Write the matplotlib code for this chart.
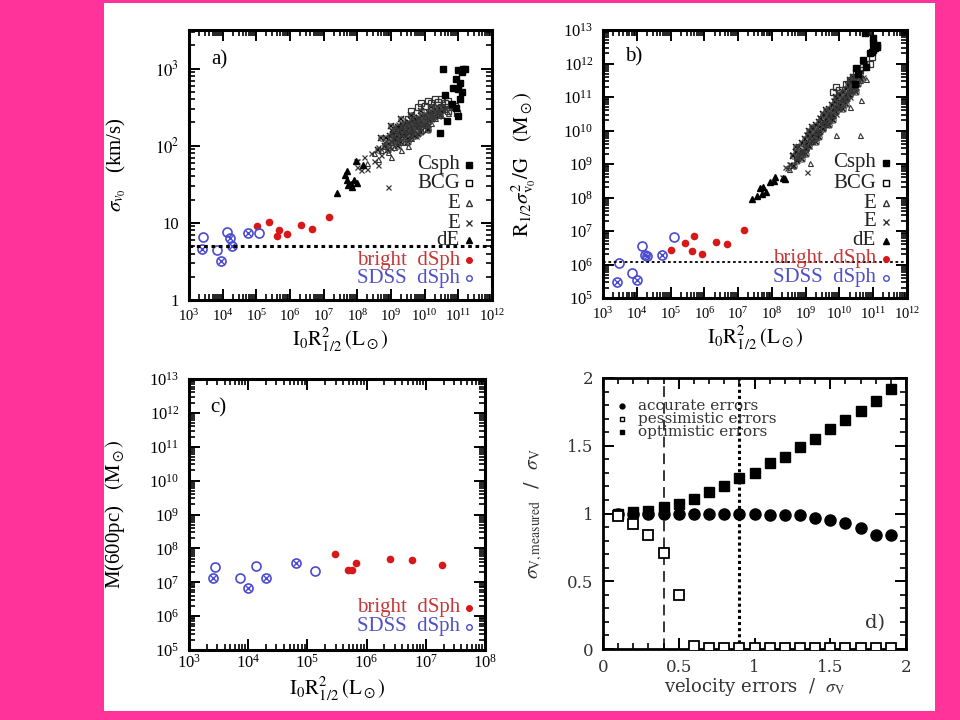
import numpy as np
import matplotlib
matplotlib.use('Agg')
import matplotlib.pyplot as plt
from matplotlib.ticker import LogLocator, NullFormatter, FixedLocator, MultipleLocator

plt.rcParams['font.family'] = ['Liberation Serif', 'DejaVu Serif']
plt.rcParams['mathtext.fontset'] = 'stix'

# ---------------- data (log10 values) ----------------
# panel a : log10(I0 R^2) , log10(sigma)
a_csph_x = [10.55, 11.14, 11.0, 11.1, 10.92, 11.04, 10.85, 11.0, 11.1, 10.6, 10.94, 11.0, 10.67, 10.45, 10.82, 11.2, 11.05]
a_csph_y = [3.0, 3.0, 2.98, 2.95, 2.86, 2.81, 2.75, 2.73, 2.7, 2.66, 2.49, 2.39, 2.32, 2.16, 2.54, 3.0, 2.6]
a_bcg_x = [9.6, 9.8, 9.9, 10.0, 10.1, 10.2, 10.3, 10.4, 10.5, 10.6, 10.7, 10.8, 10.9, 10.95, 10.7, 9.5, 10.2, 10.5]
a_bcg_y = [2.45, 2.5, 2.55, 2.52, 2.58, 2.55, 2.6, 2.57, 2.6, 2.55, 2.58, 2.5, 2.52, 2.42, 2.45, 2.35, 2.47, 2.5]
a_etri_x = [8.3, 8.5, 8.6, 8.7, 8.8, 8.9, 9.0, 9.0, 9.1, 9.1, 9.2, 9.2, 9.3, 9.3, 9.4, 9.4, 9.5, 9.5, 9.6, 9.6,
            9.7, 9.7, 9.8, 9.8, 9.9, 9.9, 10.0, 10.0, 10.1, 10.2, 10.2, 10.3, 10.4, 10.5, 10.6, 9.5, 9.3, 9.0, 10.8, 10.7]
a_etri_y = [1.78, 1.9, 1.83, 1.95, 2.0, 1.92, 2.05, 2.15, 2.1, 1.98, 2.2, 2.05, 2.12, 2.25, 2.18, 2.05, 2.28, 2.15, 2.22, 2.1,
            2.3, 2.18, 2.25, 2.35, 2.3, 2.2, 2.38, 2.27, 2.32, 2.4, 2.3, 2.36, 2.45, 2.4, 2.48, 2.0, 1.95, 1.85, 2.5, 2.42]
a_ex_x = [8.0, 8.0, 8.1, 8.2, 8.3, 8.4, 8.5, 8.6, 8.7, 8.8, 8.9, 9.0, 9.0, 9.1, 9.2, 9.2, 9.3, 9.3, 9.4, 9.4, 9.5, 9.5,
          9.6, 9.6, 9.7, 9.7, 9.8, 9.8, 9.9, 9.9, 10.0, 10.1, 10.1, 10.2, 10.3, 10.4, 10.5, 8.92, 7.95, 8.6, 9.1, 9.45,
          9.55, 9.65, 9.75, 9.35, 9.25, 9.85, 10.05, 9.15]
a_ex_y = [1.72, 1.8, 1.68, 1.85, 1.7, 1.9, 1.8, 1.98, 1.88, 2.05, 2.1, 1.97, 2.2, 2.15, 2.28, 2.1, 2.18, 2.3, 2.22, 2.12, 2.32, 2.2,
          2.28, 2.15, 2.25, 2.35, 2.3, 2.2, 2.4, 2.28, 2.33, 2.4, 2.28, 2.35, 2.42, 2.38, 2.46, 1.47, 1.8, 1.75, 2.25, 2.26,
          2.1, 2.38, 2.12, 2.2, 2.16, 2.27, 2.3, 2.02]
a_core_x = [8.82, 8.85, 8.93, 8.97, 9.02, 9.05, 9.08, 9.12, 9.15, 9.18, 9.22, 9.25, 9.28, 9.32, 9.35, 9.38, 9.42, 9.45,
            9.48, 9.52, 9.55, 9.58, 9.62, 9.65, 9.68, 9.72, 9.75, 9.78, 9.82, 9.85, 9.88, 9.92, 9.95, 9.98, 10.02, 10.05,
            10.08, 10.12, 10.15, 10.18, 10.22, 10.25, 10.28, 10.32, 10.35, 10.38, 10.42, 10.45, 10.48, 10.55, 10.62,
            9.4, 9.6, 9.8, 10.0, 9.3, 9.5, 9.7, 9.9, 10.1,
            8.6, 8.7, 8.9, 9.0, 9.2, 9.3, 9.5, 9.6, 9.8, 9.9, 10.1, 10.2]
a_core_y = [2.0, 2.1, 2.02, 2.12, 2.05, 2.15, 2.18, 2.08, 2.2, 2.12, 2.24, 2.16, 2.1, 2.22, 2.26, 2.14, 2.28, 2.19,
            2.24, 2.3, 2.17, 2.26, 2.32, 2.21, 2.28, 2.34, 2.25, 2.3, 2.36, 2.27, 2.32, 2.38, 2.29, 2.35, 2.4, 2.31,
            2.37, 2.43, 2.34, 2.39, 2.44, 2.36, 2.41, 2.47, 2.38, 2.44, 2.49, 2.4, 2.45, 2.5, 2.48,
            2.16, 2.2, 2.24, 2.28, 2.05, 2.09, 2.13, 2.18, 2.22,
            1.95, 2.1, 1.95, 2.25, 2.0, 2.35, 2.05, 2.4, 2.15, 2.45, 2.2, 2.5]
a_de_x = [7.40, 7.68, 7.68, 7.98, 7.95, 7.73, 7.85, 7.63, 8.17, 7.9, 7.8]
a_de_y = [1.39, 1.67, 1.56, 1.52, 1.80, 1.49, 1.47, 1.62, 1.75, 1.55, 1.5]
a_red_x = [5.01, 5.38, 5.66, 5.61, 5.91, 6.32, 6.66, 7.15]
a_red_y = [0.965, 1.01, 0.905, 0.83, 0.86, 0.97, 0.92, 1.08]
a_sdss_open_x = [3.42, 3.84, 4.12, 5.08]
a_sdss_open_y = [0.82, 0.65, 0.88, 0.87]
a_sdss_cross_x = [3.39, 3.95, 4.22, 4.27, 4.75]
a_sdss_cross_y = [0.66, 0.51, 0.81, 0.70, 0.87]
a_limit = 5.0

# panel b : log10(I0 R^2) , log10(R sigma^2 / G)
b_csph_x = [10.75, 10.98, 10.97, 11.0, 11.05, 11.1, 10.7, 10.9, 10.46, 10.55, 10.5, 11.0, 11.1, 10.8]
b_csph_y = [12.9, 12.75, 12.35, 12.4, 12.45, 12.5, 12.1, 12.3, 11.4, 11.7, 11.86, 12.6, 12.55, 11.9]
b_bcg_x = [9.81, 9.9, 10.0, 10.2, 10.4, 10.5, 10.6, 10.8, 10.9, 10.95, 10.7, 10.3]
b_bcg_y = [11.16, 11.3, 11.2, 11.4, 11.6, 11.75, 11.8, 12.0, 12.0, 12.2, 11.9, 11.5]
b_etri_x = [8.5, 8.7, 8.9, 9.0, 9.1, 9.2, 9.3, 9.4, 9.5, 9.6, 9.7, 9.8, 9.9, 10.0, 10.1, 10.2, 10.3, 10.4, 10.5, 10.6,
            10.6, 10.65, 9.91, 10.3, 9.12, 10.8]
b_etri_y = [8.85, 9.2, 9.4, 9.5, 9.75, 9.7, 9.95, 10.0, 10.25, 10.2, 10.5, 10.45, 10.7, 10.7, 10.95, 11.0, 11.2, 11.25, 11.45, 11.5,
            9.87, 10.9, 9.87, 10.71, 9.03, 11.55]
b_ex_x = [8.3, 8.4, 8.5, 8.6, 8.7, 8.8, 8.9, 9.0, 9.1, 9.2, 9.3, 9.4, 9.5, 9.6, 9.7, 9.8, 9.9, 10.0, 10.1, 10.2, 10.3, 10.4,
          10.5, 10.7, 9.03, 8.6, 9.0, 9.4, 9.8, 9.05, 9.15, 9.25, 9.35, 9.45, 9.55, 9.65, 9.75, 9.85, 9.95, 10.05, 10.15,
          10.25, 10.35, 8.95, 8.85, 8.75, 8.55, 8.45]
b_ex_y = [8.6, 8.9, 9.0, 8.95, 9.15, 9.4, 9.3, 9.65, 9.55, 9.9, 9.8, 10.15, 10.1, 10.4, 10.3, 10.65, 10.5, 10.9, 10.75, 11.15,
          11.0, 11.4, 11.3, 11.6, 8.77, 9.3, 9.9, 10.4, 10.9, 9.6, 9.72, 9.85, 9.97, 10.1, 10.22, 10.35, 10.47, 10.6, 10.72,
          10.85, 10.97, 11.1, 11.22, 9.5, 9.38, 9.25, 9.0, 8.88]
b_core_x = [8.62, 8.66, 8.72, 8.75, 8.81, 8.84, 8.9, 8.93, 8.98, 9.02, 9.06, 9.1, 9.14, 9.18, 9.22, 9.26, 9.3, 9.34,
            9.38, 9.42, 9.46, 9.5, 9.54, 9.58, 9.62, 9.66, 9.7, 9.74, 9.78, 9.82, 9.86, 9.9, 9.94, 9.98, 10.02, 10.06,
            10.1, 10.14, 10.18, 10.22, 10.26, 10.3, 10.34, 10.38, 10.42, 10.46, 10.5, 10.55, 10.6, 10.65,
            9.2, 9.4, 9.6, 9.8, 10.0, 10.2, 10.4, 9.0, 8.8, 9.3, 9.5, 9.7, 9.9, 10.1, 10.3,
            8.7, 8.9, 9.1, 9.3, 9.5, 9.7, 9.9, 10.1, 10.3, 10.5, 9.0, 9.2, 9.4, 9.6, 9.8, 10.0, 10.2, 10.4]
b_core_y = [9.25, 8.95, 9.35, 9.1, 9.5, 9.2, 9.62, 9.3, 9.75, 9.45, 9.85, 9.55, 9.95, 9.65, 10.05, 9.75, 10.15, 9.85,
            10.25, 9.95, 10.35, 10.05, 10.45, 10.15, 10.55, 10.25, 10.65, 10.35, 10.75, 10.45, 10.85, 10.55, 10.95, 10.65,
            11.05, 10.75, 11.15, 10.85, 11.25, 10.95, 11.35, 11.05, 11.45, 11.15, 11.55, 11.25, 11.6, 11.4, 11.7, 11.55,
            9.85, 10.1, 10.3, 10.6, 10.8, 11.05, 11.3, 9.6, 9.3, 9.95, 10.2, 10.45, 10.7, 10.95, 11.2,
            9.5, 9.15, 10.0, 9.65, 10.5, 10.15, 11.0, 10.65, 11.5, 11.15, 9.3, 10.1, 9.8, 10.6, 10.3, 11.1, 10.8, 11.6]
b_de_x = [7.40, 7.74, 7.94, 8.05, 8.33, 8.4, 7.84, 7.65, 7.7, 8.1, 7.55]
b_de_y = [7.95, 8.32, 8.47, 8.5, 8.57, 8.55, 8.17, 8.27, 8.1, 8.6, 8.05]
b_red_x = [5.02, 5.43, 5.69, 5.64, 5.93, 6.34, 6.68, 7.18]
b_red_y = [6.42, 6.64, 6.86, 6.40, 6.30, 6.66, 6.60, 7.02]
b_sdss_open_x = [3.47, 3.87, 4.14, 5.10]
b_sdss_open_y = [6.05, 5.76, 6.54, 6.82]
b_sdss_cross_x = [3.41, 4.0, 4.25, 4.29, 4.75]
b_sdss_cross_y = [5.47, 5.53, 6.27, 6.26, 6.29]
b_limit = 1.15e6

# panel c : log10(I0 R^2) , log10(M(600pc))
c_red_x = [5.47, 5.68, 5.75, 5.82, 6.40, 6.76, 7.28]
c_red_y = [7.82, 7.35, 7.35, 7.57, 7.68, 7.65, 7.52]
c_sdss_open_x = [3.44, 3.86, 4.14, 5.13]
c_sdss_open_y = [7.46, 7.13, 7.49, 7.33]
c_sdss_cross_x = [3.40, 3.99, 4.30, 4.81]
c_sdss_cross_y = [7.13, 6.84, 7.13, 7.56]

# panel d
d_err = [0.1, 0.2, 0.3, 0.4, 0.5, 0.6, 0.7, 0.8, 0.9, 1.0, 1.1, 1.2, 1.3, 1.4, 1.5, 1.6, 1.7, 1.8, 1.9]
d_accurate = [1.0, 1.0, 1.0, 1.0, 1.0, 1.0, 1.0, 1.0, 1.0, 1.0, 0.99, 0.99, 0.99, 0.97, 0.95, 0.93, 0.89, 0.84, 0.84]
d_pessimistic = [0.98, 0.92, 0.84, 0.71, 0.40, 0.02, 0.01, 0.01, 0.01, 0.01, 0.01, 0.01, 0.01, 0.01, 0.01, 0.01, 0.01, 0.01, 0.01]
d_optimistic = [1.0, 1.01, 1.02, 1.05, 1.07, 1.11, 1.16, 1.20, 1.26, 1.30, 1.37, 1.42, 1.49, 1.55, 1.62, 1.69, 1.76, 1.83, 1.92]
d_vlines = [0.4, 0.9]

RED = '#d81818'
BLUE = '#4a4ad0'
RED_TXT = '#c83838'
BLUE_TXT = '#5050c8'

fig = plt.figure(figsize=(9.6, 7.2), dpi=100)
fig.patch.set_facecolor('#ff3399')
# white page
fig.add_artist(plt.Rectangle((104 / 960, 1 - 711 / 720), (935 - 104) / 960, 708 / 720,
                             transform=fig.transFigure, facecolor='white', edgecolor='none', zorder=0))


def style(ax, lw=2.2):
    for s in ax.spines.values():
        s.set_linewidth(lw)
    ax.tick_params(which='both', direction='in', top=True, right=True, labelsize=12, pad=7)
    ax.tick_params(which='major', length=8, width=1.4)
    ax.tick_params(which='minor', length=4, width=1.2)
    ax.set_facecolor('none')


def logaxis(axis):
    axis.set_major_locator(LogLocator(base=10, numticks=100))
    axis.set_minor_locator(LogLocator(base=10, subs=np.arange(2, 10), numticks=100))
    axis.set_minor_formatter(NullFormatter())


def P(v):
    return 10 ** np.array(v)


def cloud(ax, d):
    ax.plot(P(d['ex_x']), P(d['ex_y']), 'x', color='#333333', ms=3.6, mew=0.9)
    ax.plot(P(d['core_x']), P(d['core_y']), 'x', color='#111111', ms=4.2, mew=1.1)
    ax.plot(P(d['core_x']), P(d['core_y']), 'o', mfc='none', mec='#444444', ms=3.8, mew=0.8)
    ax.plot(P(d['etri_x']), P(d['etri_y']), '^', mfc='none', mec='#333333', ms=3.6, mew=0.8)
    ax.plot(P(d['bcg_x']), P(d['bcg_y']), 's', mfc='none', mec='#333333', ms=3.8, mew=0.9)
    ax.plot(P(d['de_x']), P(d['de_y']), '^', color='black', ms=4)
    ax.plot(P(d['csph_x']), P(d['csph_y']), 's', color='black', ms=5)


def dsph(ax, rx, ry, ox, oy, cx, cy):
    ax.plot(P(rx), P(ry), 'o', color=RED, ms=5.5, mew=0)
    ax.plot(P(ox), P(oy), 'o', mfc='none', mec=BLUE, ms=6.5, mew=1.2)
    ax.plot(P(cx), P(cy), 'o', mfc='none', mec=BLUE, ms=6.5, mew=1.2)
    ax.plot(P(cx), P(cy), 'x', color=BLUE, ms=4, mew=1.0)


def legend(ax, xt, xm, ys, full=True):
    items = [('Csph', 's', 'black', 'black'), ('BCG', 's', 'none', 'black'), ('E', '^', 'none', '#333333'),
             ('E', 'x', '#333333', '#333333'), ('dE', '^', 'black', 'black')] if full else []
    items += [('bright  dSph', 'o', RED, RED), ('SDSS  dSph', 'o', 'none', BLUE)]
    for (lab, m, fc, ec), y in zip(items, ys):
        col = RED_TXT if 'bright' in lab else (BLUE_TXT if 'SDSS' in lab else '#222222')
        ax.text(xt, y, lab, transform=ax.transAxes, ha='right', va='center', fontsize=15, color=col)
        ax.plot([xm], [y], m, transform=ax.transAxes, mfc=fc, mec=ec, ms=4, mew=1.0, clip_on=False)


xlab = r'$\mathrm{I_0R^2_{1/2}\,(L_\odot)}$'

# ---------------- panel a ----------------
ax = fig.add_axes([189 / 960, 1 - 300 / 720, 303 / 960, 270 / 720])
style(ax)
ax.tick_params(axis='x', labelsize=10.5, pad=6)
ax.set_xscale('log')
ax.set_yscale('log')
logaxis(ax.xaxis)
logaxis(ax.yaxis)
cloud(ax, dict(ex_x=a_ex_x, ex_y=a_ex_y, core_x=a_core_x, core_y=a_core_y, etri_x=a_etri_x, etri_y=a_etri_y,
               bcg_x=a_bcg_x, bcg_y=a_bcg_y, de_x=a_de_x, de_y=a_de_y, csph_x=a_csph_x, csph_y=a_csph_y))
dsph(ax, a_red_x, a_red_y, a_sdss_open_x, a_sdss_open_y, a_sdss_cross_x, a_sdss_cross_y)
ax.axhline(a_limit, color='black', lw=2.2, ls=(0, (1.2, 1.2)))
ax.set_xlim(1e3, 1e12)
ax.set_ylim(1, 10 ** 3.5)
ax.set_yticks([1, 10, 100, 1000], ['1', '10', r'$10^2$', r'$10^3$'])
ax.set_ylabel(r'$\sigma_{v_0}$   (km/s)', fontsize=15)
ax.yaxis.set_label_coords(-0.2, 0.5)
ax.set_xlabel(xlab, fontsize=15)
ax.xaxis.set_label_coords(0.5, -0.095)
ax.text(0.10, 0.89, 'a)', transform=ax.transAxes, fontsize=15, ha='center', va='center')
legend(ax, 0.894, 0.924, [0.5, 0.433, 0.359, 0.285, 0.222, 0.148, 0.081])

# ---------------- panel b ----------------
ax = fig.add_axes([603 / 960, 1 - 298 / 720, 304 / 960, 268 / 720])
style(ax)
ax.tick_params(axis='x', labelsize=10.5, pad=6)
ax.set_xscale('log')
ax.set_yscale('log')
logaxis(ax.xaxis)
logaxis(ax.yaxis)
cloud(ax, dict(ex_x=b_ex_x, ex_y=b_ex_y, core_x=b_core_x, core_y=b_core_y, etri_x=b_etri_x, etri_y=b_etri_y,
               bcg_x=b_bcg_x, bcg_y=b_bcg_y, de_x=b_de_x, de_y=b_de_y, csph_x=b_csph_x, csph_y=b_csph_y))
dsph(ax, b_red_x, b_red_y, b_sdss_open_x, b_sdss_open_y, b_sdss_cross_x, b_sdss_cross_y)
ax.axhline(b_limit, color='black', lw=1.3, ls=(0, (1.5, 1.5)))
ax.set_xlim(1e3, 1e12)
ax.set_ylim(1e5, 1e13)
ax.set_ylabel(r'$\mathrm{R_{1/2}}\sigma^2_{\mathrm{v_0}}\mathrm{/G}$   $\mathrm{(M_\odot)}$', fontsize=15)
ax.yaxis.set_label_coords(-0.215, 0.5)
ax.set_xlabel(xlab, fontsize=15)
ax.xaxis.set_label_coords(0.5, -0.095)
ax.text(0.10, 0.90, 'b)', transform=ax.transAxes, fontsize=15, ha='center', va='center')
legend(ax, 0.898, 0.931, [0.504, 0.429, 0.354, 0.284, 0.213, 0.146, 0.075])

# ---------------- panel c ----------------
ax = fig.add_axes([189 / 960, 1 - 650 / 720, 296 / 960, 271 / 720])
style(ax)
ax.tick_params(axis='x', pad=3)
ax.set_xscale('log')
ax.set_yscale('log')
logaxis(ax.xaxis)
logaxis(ax.yaxis)
dsph(ax, c_red_x, c_red_y, c_sdss_open_x, c_sdss_open_y, c_sdss_cross_x, c_sdss_cross_y)
ax.set_xlim(1e3, 1e8)
ax.set_ylim(1e5, 1e13)
ax.set_ylabel(r'M(600pc)   $\mathrm{(M_\odot)}$', fontsize=15)
ax.yaxis.set_label_coords(-0.21, 0.5)
ax.set_xlabel(xlab, fontsize=15)
ax.xaxis.set_label_coords(0.5, -0.09)
ax.text(0.10, 0.893, 'c)', transform=ax.transAxes, fontsize=15, ha='center', va='center')
legend(ax, 0.916, 0.946, [0.155, 0.085], full=False)

# ---------------- panel d ----------------
ax = fig.add_axes([603 / 960, 1 - 649 / 720, 303 / 960, 271 / 720])
style(ax, lw=2.0)
ax.xaxis.set_major_locator(FixedLocator([0, 0.5, 1, 1.5, 2]))
ax.xaxis.set_minor_locator(MultipleLocator(0.1))
ax.yaxis.set_major_locator(FixedLocator([0, 0.5, 1, 1.5, 2]))
ax.yaxis.set_minor_locator(MultipleLocator(0.1))
ax.set_xticklabels(['0', '0.5', '1', '1.5', '2'], family='DejaVu Serif', color='#333333')
ax.set_yticklabels(['0', '0.5', '1', '1.5', '2'], family='DejaVu Serif', color='#333333')
ax.axvline(d_vlines[0], color='black', lw=1.1, ls=(0, (7, 4)))
ax.axvline(d_vlines[1], color='black', lw=2.2, ls=(0, (1, 1)))
ax.plot(d_err, d_accurate, 'o', color='black', ms=8, zorder=3)
ax.plot(d_err, d_pessimistic, 's', mfc='white', mec='black', ms=7, mew=1.3, zorder=4)
ax.plot(d_err, d_optimistic, 's', color='black', ms=7, zorder=3)
ax.set_xlim(0, 2)
ax.set_ylim(0, 2)
ax.set_ylabel(r'$\sigma_{\rm V,measured}$  /  $\sigma_{\rm V}$', fontsize=14, family='DejaVu Serif', color='#333333')
ax.yaxis.set_label_coords(-0.19, 0.5)
ax.set_xlabel(r'velocity errors  /  $\sigma_{\rm V}$', fontsize=13, family='DejaVu Serif', color='#333333')
ax.xaxis.set_label_coords(0.5, -0.1)
ax.text(0.898, 0.096, 'd)', transform=ax.transAxes, fontsize=14, ha='center', va='center',
        family='DejaVu Serif', color='#333333')
for lab, m, fc, y in [('accurate errors', 'o', 'black', 0.895), ('pessimistic errors', 's', 'none', 0.849),
                      ('optimistic errors', 's', 'black', 0.80)]:
    ax.plot([0.063], [y], m, transform=ax.transAxes, mfc=fc, mec='black', ms=3.5, mew=1.0)
    ax.text(0.115, y, lab, transform=ax.transAxes, ha='left', va='center', fontsize=11,
            family='DejaVu Serif', color='#333333')

fig.savefig('out.png', dpi=100, facecolor=fig.get_facecolor())
